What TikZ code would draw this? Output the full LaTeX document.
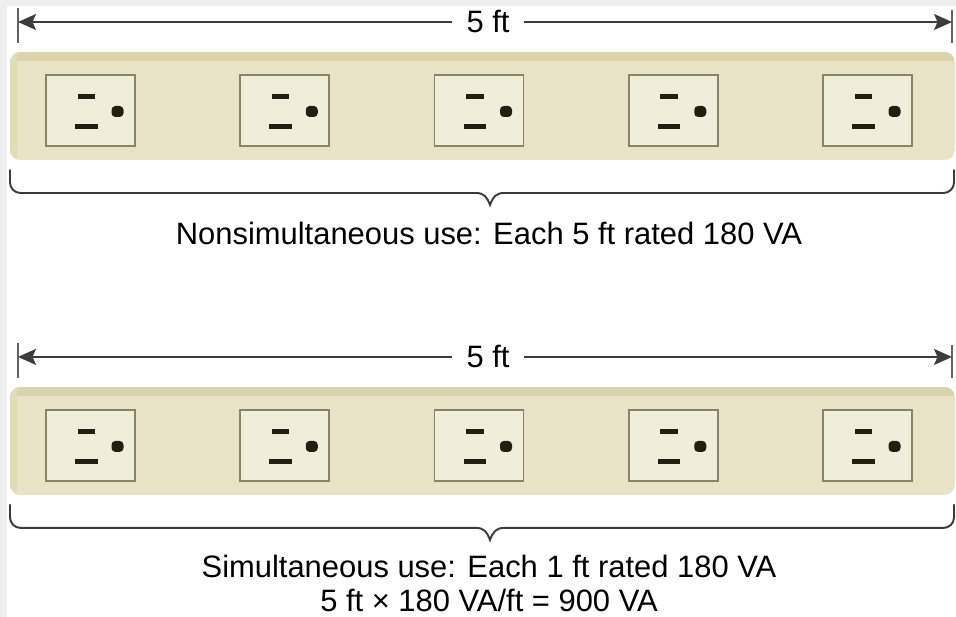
\documentclass[tikz,border=0pt]{standalone}
\usepackage{fontspec}
\setmainfont{Liberation Sans}
\usetikzlibrary{arrows.meta}
\definecolor{stripfill}{RGB}{232,227,198}
\definecolor{stripedge}{RGB}{218,212,172}
\definecolor{plateface}{RGB}{240,237,219}
\definecolor{plateline}{RGB}{138,132,102}
\definecolor{slotcol}{RGB}{36,30,18}
\definecolor{inkcol}{RGB}{60,60,60}
\definecolor{framecol}{RGB}{238,238,238}
\tikzset{
  outlet/.style={draw=plateline, fill=plateface, line width=0.9pt,
    minimum width=1.78cm, minimum height=1.42cm, inner sep=0pt,
    path picture={
      \begin{scope}[shift={(path picture bounding box.center)}]
        \fill[slotcol] (-13,-16.5) rectangle (4.5,-11.5);
        \fill[slotcol] (-15.5,14) rectangle (7,19);
        \fill[slotcol, rounded corners=2.2pt] (21,-4.5) rectangle (33,6.5);
      \end{scope}}},
  dimline/.style={draw=inkcol, line width=0.8pt,
    {Stealth[length=0.36cm,width=0.32cm,inset=0.07cm]}-{Stealth[length=0.36cm,width=0.32cm,inset=0.07cm]}},
  endtick/.style={draw=inkcol!80, line width=0.8pt},
  dimlabel/.style={fill=white, anchor=base, inner xsep=0.3cm, inner ysep=1pt,
    font=\fontsize{17.6}{21}\selectfont},
  brace/.style={draw=inkcol, line width=1.1pt, line cap=round, rounded corners=6pt},
  notch/.style={draw=inkcol, line width=1.1pt, line cap=round, sharp corners},
  caption/.style={inner sep=0pt, align=center, font=\fontsize{17.6}{19}\selectfont}
}
\begin{document}
\begin{tikzpicture}[x=0.02cm, y=-0.02cm]
  \useasboundingbox (0,0) rectangle (956,617);
  \fill[framecol] (0,0) rectangle (956,617);
  \fill[white] (7,6) rectangle (956,617);

  \begin{scope}
    \begin{scope}
      \clip[rounded corners=6pt] (10,52) rectangle (955,160);
      \fill[stripfill] (10,52) rectangle (955,160);
      \fill[stripedge] (10,52) rectangle (955,61);
      \fill[stripedge!55!stripfill] (10,52) rectangle (17,160);
    \end{scope}
    \draw
      (90.5,110.5) node[outlet] (a1){}
      (284.75,110.5) node[outlet] (a2){}
      (479,110.5) node[outlet] (a3){}
      (673.25,110.5) node[outlet] (a4){}
      (867.5,110.5) node[outlet] (a5){};
    \coordinate (al) at (18,22);
    \coordinate (ar) at (952,22);
    \draw[endtick] (18,8) -- (18,43);
    \draw[endtick] (952,10) -- (952,43);
    \draw[dimline] (al) -- (ar);
    \node[dimlabel] (alen) at (488,33) {5 ft};
    \draw[brace] (10,170) -- (10,193) -- (476,193);
    \draw[notch] (476,193) .. controls (484,193) and (487,197) .. (490,205)
      .. controls (493,197) and (496,193) .. (504,193);
    \draw[brace] (504,193) -- (954,193) -- (954,170);
    \node[caption, anchor=base] (acap) at (489,245) {Nonsimultaneous use: Each 5 ft rated 180 VA};
  \end{scope}

  \begin{scope}[yshift=-6.7cm]
    \begin{scope}
      \clip[rounded corners=6pt] (10,52) rectangle (955,160);
      \fill[stripfill] (10,52) rectangle (955,160);
      \fill[stripedge] (10,52) rectangle (955,61);
      \fill[stripedge!55!stripfill] (10,52) rectangle (17,160);
    \end{scope}
    \draw
      (90.5,110.5) node[outlet] (b1){}
      (284.75,110.5) node[outlet] (b2){}
      (479,110.5) node[outlet] (b3){}
      (673.25,110.5) node[outlet] (b4){}
      (867.5,110.5) node[outlet] (b5){};
    \coordinate (bl) at (18,22);
    \coordinate (br) at (952,22);
    \draw[endtick] (18,8) -- (18,43);
    \draw[endtick] (952,10) -- (952,43);
    \draw[dimline] (bl) -- (br);
    \node[dimlabel] (blen) at (488,33) {5 ft};
    \draw[brace] (10,170) -- (10,193) -- (476,193);
    \draw[notch] (476,193) .. controls (484,193) and (487,197) .. (490,205)
      .. controls (493,197) and (496,193) .. (504,193);
    \draw[brace] (504,193) -- (954,193) -- (954,170);
    \node[caption, anchor=north] (bcap) at (489,220)
      {Simultaneous use: Each 1 ft rated 180 VA\\5 ft × 180 VA/ft = 900 VA};
  \end{scope}
\end{tikzpicture}
\end{document}
